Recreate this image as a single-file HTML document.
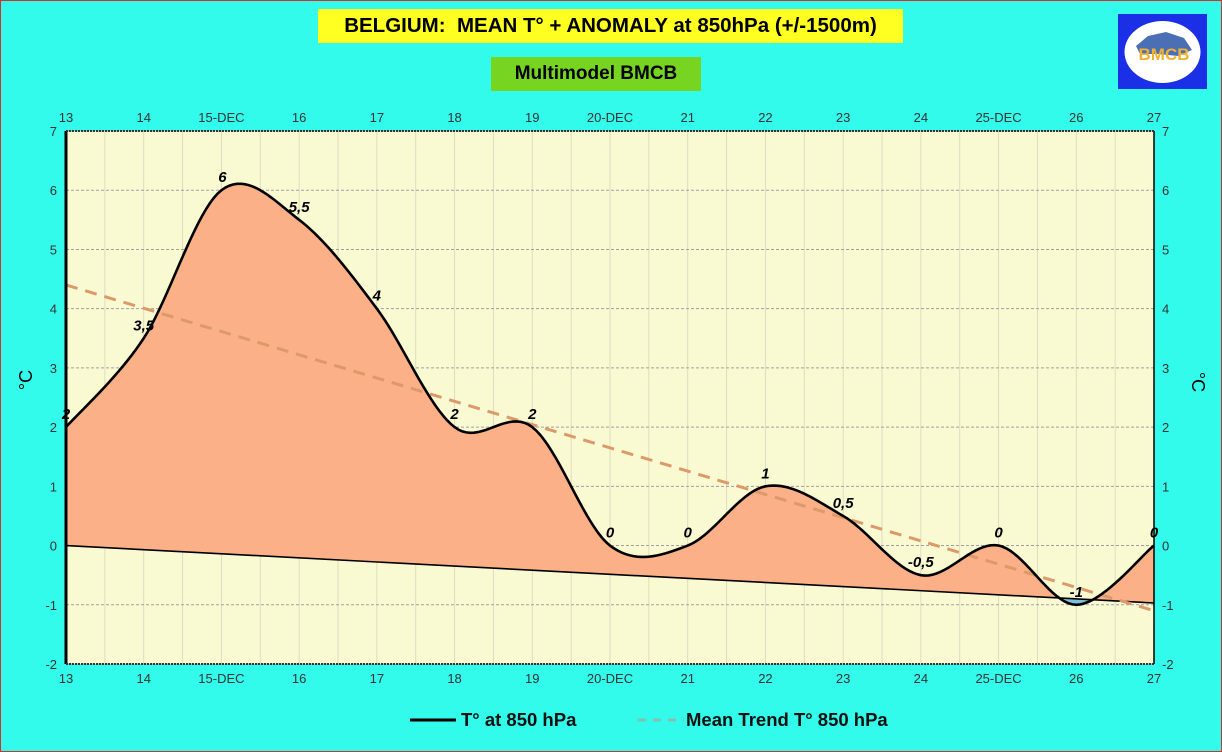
<!DOCTYPE html>
<html><head><meta charset="utf-8"><style>
html,body{margin:0;padding:0;}
body{width:1222px;height:752px;overflow:hidden;background:#33fbeb;font-family:"Liberation Sans",sans-serif;}
#frame{position:absolute;left:0;top:0;width:1220px;height:750px;border:1px solid #d03030;}
.title{position:absolute;left:318px;top:9px;width:585px;height:34px;background:#ffff22;font-weight:bold;font-size:20.5px;line-height:34px;text-align:center;white-space:pre;}
.sub{position:absolute;left:491px;top:57px;width:210px;height:34px;background:#77d522;font-weight:bold;font-size:19px;line-height:34px;text-align:center;}
.logo{position:absolute;left:1118px;top:14px;width:89px;height:75px;background:#1a2fe6;}
</style></head><body>
<div id="frame"></div>
<div class="title">BELGIUM:  MEAN T° + ANOMALY at 850hPa (+/-1500m)</div>
<div class="sub">Multimodel BMCB</div>
<div class="logo">
<svg width="89" height="75"><ellipse cx="44.5" cy="38" rx="38" ry="31" fill="#fff"/><path d="M18 32 L30 22 L48 18 L66 24 L74 36 L60 42 L40 40 L22 40Z" fill="#4a6fb5"/><text x="46" y="46" font-size="17" font-weight="bold" fill="#f0b030" text-anchor="middle" font-family="Liberation Sans">BMCB</text></svg>
</div>
<svg id="chart" width="1222" height="752" style="position:absolute;left:0;top:0"></svg>
<script>
const days=[13,14,15,16,17,18,19,20,21,22,23,24,25,26,27];
const dayLabels=["13","14","15-DEC","16","17","18","19","20-DEC","21","22","23","24","25-DEC","26","27"];
const temps=[2,3.5,6,5.5,4,2,2,0,0,1,0.5,-0.5,0,-1,0];
const pointLabels=["2","3,5","6","5,5","4","2","2","0","0","1","0,5","-0,5","0","-1","0"];
const baseStart=0, baseEnd=-0.97;
const trendStart=4.4, trendEnd=-1.1;
const yTicks=[-2,-1,0,1,2,3,4,5,6,7];

const X0=66,X1=1154,Y0=131,Y1=664;
const xs=d=>X0+(d-13)*(X1-X0)/14;
const ys=v=>Y0+(7-v)*(Y1-Y0)/9;
const NS="http://www.w3.org/2000/svg";
const svg=document.getElementById('chart');
function mk(t,a,p){const e=document.createElementNS(NS,t);for(const k in a)e.setAttribute(k,a[k]);(p||svg).appendChild(e);return e;}

const bg=mk('rect',{x:X0,y:Y0,width:X1-X0,height:Y1-Y0,fill:'#fafad2'});


for(let d=13;d<=27;d+=0.5){const l=mk('line',{x1:xs(d),x2:xs(d),y1:Y0,y2:Y1,stroke:'#dedcc0','stroke-width':1});

}
yTicks.forEach(v=>{const l=mk('line',{x1:X0,x2:X1,y1:ys(v),y2:ys(v),stroke:'#a0a0a0','stroke-dasharray':'3,2','stroke-width':1});

});

const pts=days.map((d,i)=>[xs(d),ys(temps[i])]);
const samp=[];
for(let i=0;i<pts.length-1;i++){
 const p0=pts[Math.max(0,i-1)],p1=pts[i],p2=pts[i+1],p3=pts[Math.min(pts.length-1,i+2)];
 const t=0.5/3*1.0;
 const c1=[p1[0]+(p2[0]-p0[0])*t,p1[1]+(p2[1]-p0[1])*t];
 const c2=[p2[0]-(p3[0]-p1[0])*t,p2[1]-(p3[1]-p1[1])*t];
 for(let k=0;k<20;k++){const s=k/20,u=1-s;
  samp.push([u*u*u*p1[0]+3*u*u*s*c1[0]+3*u*s*s*c2[0]+s*s*s*p2[0],u*u*u*p1[1]+3*u*u*s*c1[1]+3*u*s*s*c2[1]+s*s*s*p2[1]]);}
}
samp.push(pts[pts.length-1]);
const baseY=x=>ys(baseStart+(baseEnd-baseStart)*(x-X0)/(X1-X0));
let up='',dn='';
samp.forEach(p=>{const b=baseY(p[0]);up+=p[0]+','+Math.min(p[1],b)+' ';dn+=p[0]+','+Math.max(p[1],b)+' ';});
const fu=mk('polygon',{points:up+X1+','+baseY(X1)+' '+X0+','+baseY(X0),fill:'#fbb088'});


const fd=mk('polygon',{points:dn+X1+','+baseY(X1)+' '+X0+','+baseY(X0),fill:'#7ec0dc'});



const bl=mk('line',{x1:X0,y1:ys(baseStart),x2:X1,y2:ys(baseEnd),stroke:'#000','stroke-width':1.6});


const tr=mk('line',{x1:X0,y1:ys(trendStart),x2:X1,y2:ys(trendEnd),stroke:'#dc9a6a','stroke-width':3,'stroke-dasharray':'12,8'});


const ln=mk('polyline',{points:samp.map(p=>p.join(',')).join(' '),fill:'none',stroke:'#000','stroke-width':2.6});



const ax=mk('line',{x1:X0,x2:X0,y1:Y0,y2:Y1,stroke:'#000','stroke-width':3});


const ay=mk('line',{x1:X1,x2:X1,y1:Y0,y2:Y1,stroke:'#000','stroke-width':1.5});


const at=mk('line',{x1:X0,x2:X1,y1:Y0,y2:Y0,stroke:'#333','stroke-width':2,'stroke-dasharray':'2,1'});


const ab=mk('line',{x1:X0,x2:X1,y1:Y1,y2:Y1,stroke:'#333','stroke-width':2,'stroke-dasharray':'2,1'});



yTicks.forEach(v=>{
 const a=mk('text',{x:57,y:ys(v)+5,'font-size':13,'text-anchor':'end',fill:'#333'});a.textContent=v;
 
 
 const b=mk('text',{x:1162,y:ys(v)+5,'font-size':13,'text-anchor':'start',fill:'#333'});b.textContent=v;
 
 
});
days.forEach((d,i)=>{
 const a=mk('text',{x:xs(d),y:122,'font-size':13,'text-anchor':'middle',fill:'#333'});a.textContent=dayLabels[i];
 
 
 const b=mk('text',{x:xs(d),y:683,'font-size':13,'text-anchor':'middle',fill:'#333'});b.textContent=dayLabels[i];
 
 
 const c=mk('text',{x:xs(d)+(i==2?1:0),y:ys(temps[i])-8,'font-size':15,'font-weight':'bold','font-style':'italic','text-anchor':'middle',fill:'#000'});c.textContent=pointLabels[i];
 
 
});
const t1=mk('text',{x:0,y:0,'font-size':18,transform:'translate(32,380) rotate(-90)','text-anchor':'middle',fill:'#000'});t1.textContent='°C';


const t2=mk('text',{x:0,y:0,'font-size':18,transform:'translate(1192,382) rotate(90)','text-anchor':'middle',fill:'#000'});t2.textContent='°C';



const g=mk('g',{});


mk('line',{x1:410,x2:456,y1:720,y2:720,stroke:'#000','stroke-width':3},g);
const l1=mk('text',{x:461,y:726,'font-size':18.5,'font-weight':'bold',fill:'#111'},g);l1.textContent='T° at 850 hPa';


mk('line',{x1:638,x2:684,y1:720,y2:720,stroke:'#88c0b0','stroke-width':3,'stroke-dasharray':'8,7'},g);
const l2=mk('text',{x:686,y:726,'font-size':18.5,'font-weight':'bold',fill:'#111'},g);l2.textContent='Mean Trend T° 850 hPa';


</script>
</body></html>
